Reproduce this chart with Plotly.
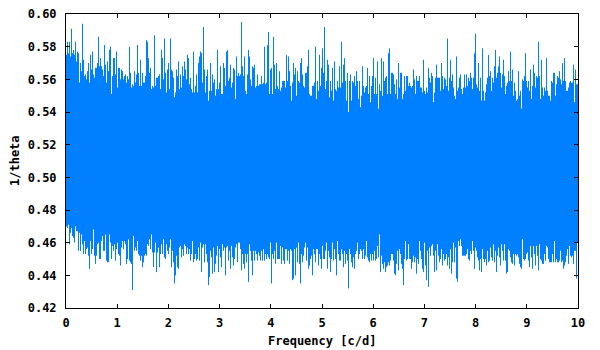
import plotly.graph_objects as go

# peak values per pixel column left to right
upper_a = [.575,.583,.576,.583,.574,.591,.576,.578,.575,.583,.571,.577,.576,.558,.570,.565,.594,.572,.562,.563,.560,.565,.570,.558,.575,.566,.577,.563,.561,.567,.567,.570,.586,.568,.573,.568,.566,.562,.581,.569,.558,.571,.565,.578,.580,.551,.562,.573,.573,.563,.577,.555,.567,.567,.560,.566,.565,.560,.562,.563,.558,.562,.560,.580,.564,.555,.557,.556,.565,.558,.563,.581,.564,.556,.572,.556,.564,.558,.558,.562,.584,.583,.573,.564,.567,.554,.556,.555,.587,.556,.561,.561,.562,.563,.554,.578,.573,.560,.585,.564,.552,.566,.570,.554,.585,.566,.565,.561,.549,.552,.566,.562,.571,.554,.563,.555,.568,.562,.571,.566,.560,.575,.573,.557,.561,.554,.552,.577,.552,.556,.563,.552,.570,.574]
upper_b = [.577,.576,.558,.592,.566,.552,.562,.566,.547,.553,.570,.553,.563,.558,.560,.550,.554,.578,.554,.558,.568,.551,.551,.570,.567,.556,.577,.578,.559,.561,.569,.555,.558,.567,.566,.548,.574,.562,.564,.562,.563,.595,.568,.562,.574,.553,.551,.563,.578,.574,.560,.556,.568,.567,.569,.555,.556,.563,.556,.557,.557,.562,.557,.558,.580,.557,.558,.581,.589,.551,.566,.567,.551,.586,.569,.554,.570,.556,.554,.565,.553,.555,.559,.559,.559,.555,.575,.559,.574,.565,.556,.547,.558,.570,.563,.567,.550,.565,.559,.558,.570,.573,.563,.556,.555,.564,.564,.568,.578,.551,.550,.550,.556,.556,.558,.580,.548,.559,.553,.575,.556,.567,.579,.564,.592,.554,.559,.572,.569,.549,.559,.553,.567,.547,.571,.554,.553,.559,.555,.568,.555,.583,.558,.569,.573,.559,.547,.564,.540,.559,.563,.547,.559,.558,.562,.556,.565,.559,.548,.559,.543,.550,.568,.556,.552,.555,.556,.567,.551,.562,.546,.556,.562,.573,.551,.561,.551,.571,.542,.557,.553,.573,.550,.571,.559,.561,.562,.551,.576,.579,.551,.564,.564,.563,.557,.551,.560,.548,.570,.555]
upper_c = [.564,.564,.548,.551,.562,.553,.562,.562,.556,.558,.556,.555,.556,.566,.560,.551,.562,.559,.559,.562,.555,.555,.552,.572,.553,.551,.555,.552,.567,.561,.558,.564,.562,.546,.552,.561,.569,.561,.561,.561,.553,.570,.562,.554,.561,.560,.556,.585,.553,.561,.572,.559,.563,.555,.550,.548,.574,.553,.555,.561,.563,.554,.551,.555,.563,.555,.563,.556,.561,.559,.564,.561,.554,.561,.576,.588,.557,.555,.570,.553,.561,.547,.579,.553,.547,.552,.557,.561,.575,.562,.565,.553,.561,.558,.568,.578,.561,.564,.568,.574,.564,.555,.563,.572,.562,.551,.556,.558,.565,.559,.577,.559,.566,.550,.558,.553,.547,.548,.565,.550,.553,.542,.560,.559,.562,.576,.559,.555,.559,.553,.566,.548,.556,.569,.564,.555,.562,.561,.583,.562,.548,.572,.555,.550,.555,.553,.573,.553,.550,.550,.547,.559,.558,.564,.564,.550,.557,.562,.561,.565,.560,.557,.570,.559,.573,.559,.553,.553,.555,.558,.559,.558,.558,.569,.546,.566,.557,.557]

lower_a = [.470,.469,.471,.459,.466,.469,.464,.463,.460,.470,.467,.467,.455,.466,.455,.465,.459,.453,.461,.453,.456,.457,.452,.444,.461,.453,.456,.468,.452,.447,.452,.459,.460,.450,.450,.461,.464,.455,.455,.465,.449,.448,.448,.465,.460,.450,.458,.455,.459,.449,.456,.460,.453,.452,.446,.457,.461,.456,.461,.459,.447,.450,.462,.449,.448,.447,.431,.464,.455,.457,.455,.461,.453,.452,.449,.452,.445,.448,.452,.453,.452,.459,.458,.462,.456,.465,.454,.445,.454,.460,.442,.454,.457,.445,.453,.459,.453,.462,.451,.450,.459,.455,.453,.457,.462,.445,.455,.448,.435,.440,.452,.445,.444,.457,.458,.451,.456,.452,.459,.458,.453,.457,.453,.456,.449,.453,.461,.448,.450,.453,.449,.450,.457,.449]
lower_b = [.460,.442,.457,.459,.448,.459,.453,.448,.434,.439,.455,.451,.441,.457,.442,.447,.452,.458,.442,.456,.451,.445,.459,.455,.457,.440,.457,.458,.449,.455,.444,.458,.451,.446,.450,.457,.459,.448,.460,.460,.456,.443,.453,.447,.444,.453,.448,.453,.436,.459,.455,.449,.440,.455,.449,.455,.453,.449,.454,.452,.449,.455,.449,.456,.449,.453,.450,.453,.451,.450,.460,.435,.453,.450,.455,.447,.460,.450,.450,.450,.458,.447,.457,.449,.447,.456,.456,.449,.455,.447,.456,.455,.437,.438,.456,.440,.457,.448,.460,.447,.435,.453,.448,.452,.457,.460,.449,.457,.444,.446,.450,.452,.440,.456,.453,.448,.456,.456,.446,.453,.450,.444,.458,.450,.450,.455,.460,.444,.455,.451,.442,.450,.460,.449,.456,.450,.440,.461,.453,.449,.449,.456,.453,.445,.455,.447,.453,.449,.432,.456,.453,.448,.445,.451,.444,.453,.455,.460,.450,.453,.456,.455,.450,.456,.450,.452,.461,.451,.449,.448,.453,.449,.453,.449,.455,.449,.450,.458,.451,.465,.442,.452,.447,.444,.448,.442,.445,.446,.448,.446,.449,.453,.453,.449,.441,.440,.447,.455,.443,.456]
lower_c = [.453,.447,.444,.434,.450,.461,.449,.450,.459,.450,.450,.444,.448,.452,.448,.451,.441,.450,.447,.461,.455,.450,.444,.442,.460,.446,.437,.455,.433,.457,.452,.458,.459,.452,.442,.455,.443,.459,.452,.448,.450,.456,.446,.453,.449,.450,.453,.446,.451,.444,.456,.441,.448,.460,.448,.457,.438,.436,.461,.458,.462,.458,.452,.452,.452,.452,.453,.456,.450,.449,.455,.453,.461,.455,.444,.457,.455,.451,.449,.443,.450,.442,.456,.450,.448,.450,.446,.455,.448,.449,.457,.451,.449,.459,.448,.455,.442,.452,.457,.451,.446,.459,.455,.449,.459,.449,.441,.442,.456,.455,.451,.448,.447,.453,.446,.453,.452,.453,.451,.447,.445,.444,.462,.450,.449,.450,.453,.454,.449,.445,.458,.451,.444,.458,.453,.446,.458,.452,.443,.459,.450,.449,.447,.447,.453,.449,.458,.457,.450,.448,.448,.448,.453,.448,.461,.448,.450,.448,.448,.449,.455,.448,.449,.444,.446,.448,.452,.456,.447,.458,.452,.451,.452,.447,.455,.455,.438,.460]

upper = upper_a + upper_b + upper_c
lower = lower_a + lower_b + lower_c

FONT = "DejaVu Sans Mono"
BLUE = "#0080ff"

# one vertical stroke per column, from the lower peak to the upper peak
step = 10 / len(upper)
xs, ys = [], []
for i, (lo, hi) in enumerate(zip(lower, upper)):
    f = (i + 0.5) * step
    xs += [f, f, None]
    ys += [lo, hi, None]

fig = go.Figure()
fig.add_trace(go.Scatter(x=xs, y=ys, mode="lines", line=dict(color=BLUE, width=1), hoverinfo="skip"))

bold = dict(family=FONT, size=12, color="black", weight="bold")
axis = dict(showgrid=False, zeroline=False, showline=True, linecolor="black", linewidth=1,
            mirror="ticks", ticks="inside", ticklen=4, tickwidth=1, tickcolor="black",
            automargin=False, ticklabeloverflow="allow", tickfont=bold)

fig.update_xaxes(range=[0, 10], dtick=1, tick0=0, ticklabelstandoff=4, **axis)
fig.update_yaxes(range=[0.42, 0.60], dtick=0.02, tick0=0.42, tickformat=".2f", ticklabelstandoff=6, **axis)

# the page body adds 8px round the figure, so the size and margins allow for it
fig.update_layout(width=592, height=342, showlegend=False, plot_bgcolor="white", paper_bgcolor="white",
                  margin=dict(l=58, r=22, t=6, b=42))

fig.add_annotation(text="Frequency [c/d]", xref="paper", yref="paper", x=0.5, y=-0.112,
                   xanchor="center", yanchor="middle", showarrow=False, font=bold)
fig.add_annotation(text="1/theta", xref="paper", yref="paper", x=-0.0996, y=0.5, textangle=-90,
                   xanchor="center", yanchor="middle", showarrow=False, font=bold)

fig.write_html("out.html")
